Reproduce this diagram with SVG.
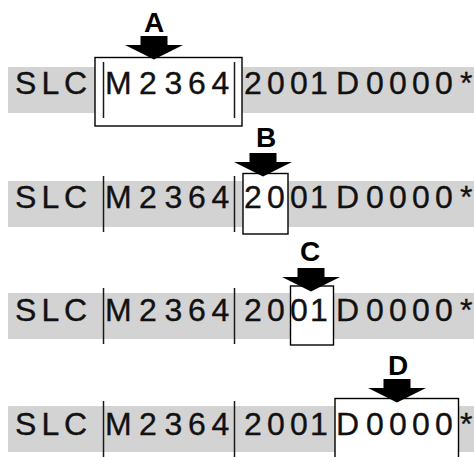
<svg xmlns="http://www.w3.org/2000/svg" xmlns:xlink="http://www.w3.org/1999/xlink" width="474" height="457" viewBox="0 0 474 457">
<style>
.band{fill:#d3d3d3}
.sep{stroke:#1a1a1a;stroke-width:1.5}
.box{fill:#fff;stroke:#000;stroke-width:1.4}
.code{font-family:"Liberation Sans Narrow","Liberation Sans",Arial,sans-serif;font-size:32px;fill:#111;stroke:#111;stroke-width:0.35}
.lbl{font-family:"Liberation Sans",Arial,sans-serif;font-weight:bold;font-size:28px;fill:#000;text-anchor:middle}
</style>
<defs>
<path id="arr" d="M-13.5,0 h27 v9 h15.5 L0,23.5 L-29,9 h15.5 z" fill="#000"/>
</defs>
<rect width="474" height="457" fill="#fff"/>

<g id="row1">
<rect class="band" x="8" y="67" width="466" height="46"/>
<g id="markA">
<rect class="box" x="95" y="57.5" width="147" height="68.5"/>
<use xlink:href="#arr" x="154" y="36"/>
<text class="lbl" x="154" y="32">A</text>
</g>
<line class="sep" x1="103.5" y1="62" x2="103.5" y2="118"/>
<line class="sep" x1="234.5" y1="62" x2="234.5" y2="118"/>
<text class="code" y="94" x="15 41.5 64 105 139 164.5 188 211.5 244 267 290 310 336 366 389 412 435 460">SLCM23642001D0000*</text>
</g>

<g id="row2">
<rect class="band" x="8" y="181" width="466" height="46"/>
<g id="markB">
<rect class="box" x="243" y="173.5" width="45" height="60.5"/>
<use xlink:href="#arr" x="263" y="153"/>
<text class="lbl" x="266" y="146.5">B</text>
</g>
<line class="sep" x1="103.5" y1="176" x2="103.5" y2="232"/>
<line class="sep" x1="234.5" y1="176" x2="234.5" y2="232"/>
<text class="code" y="207.5" x="15 41.5 64 105 139 164.5 188 211.5 244 267 290 310 336 366 389 412 435 460">SLCM23642001D0000*</text>
</g>

<g id="row3">
<rect class="band" x="8" y="293" width="466" height="46"/>
<g id="markC">
<rect class="box" x="290.5" y="286" width="43" height="59"/>
<use xlink:href="#arr" x="311" y="268"/>
<text class="lbl" x="310" y="261">C</text>
</g>
<line class="sep" x1="103.5" y1="288" x2="103.5" y2="344"/>
<line class="sep" x1="234.5" y1="288" x2="234.5" y2="344"/>
<text class="code" y="321" x="15 41.5 64 105 139 164.5 188 211.5 244 267 290 310 336 366 389 412 435 460">SLCM23642001D0000*</text>
</g>

<g id="row4">
<rect class="band" x="8" y="406" width="466" height="46"/>
<g id="markD">
<rect class="box" x="335" y="398.5" width="123.5" height="64"/>
<use xlink:href="#arr" x="397" y="379"/>
<text class="lbl" x="398" y="375">D</text>
</g>
<line class="sep" x1="103.5" y1="401" x2="103.5" y2="457"/>
<line class="sep" x1="234.5" y1="401" x2="234.5" y2="457"/>
<text class="code" y="434.5" x="15 41.5 64 105 139 164.5 188 211.5 244 267 290 310 336 366 389 412 435 460">SLCM23642001D0000*</text>
</g>
</svg>
